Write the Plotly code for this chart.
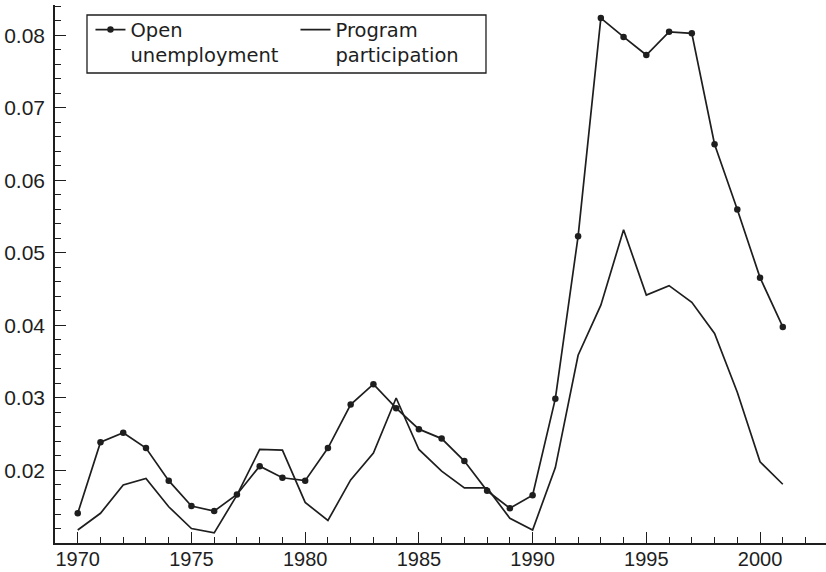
import plotly.graph_objects as go

# Annual series, 1970-2001
years = list(range(1970, 2002))

open_unemployment = [
    0.0141, 0.0239, 0.0252, 0.0231, 0.0186, 0.0151, 0.0144, 0.0167,
    0.0206, 0.0190, 0.0186, 0.0231, 0.0291, 0.0319, 0.0286, 0.0257,
    0.0244, 0.0213, 0.0172, 0.0148, 0.0166, 0.0299, 0.0523, 0.0824,
    0.0798, 0.0773, 0.0805, 0.0803, 0.0650, 0.0560, 0.0466, 0.0398,
]

program_participation = [
    0.0118, 0.0141, 0.0180, 0.0189, 0.0150, 0.0120, 0.0114, 0.0166,
    0.0229, 0.0228, 0.0156, 0.0131, 0.0187, 0.0224, 0.0300, 0.0229,
    0.0199, 0.0176, 0.0176, 0.0134, 0.0118, 0.0204, 0.0359, 0.0428,
    0.0532, 0.0442, 0.0455, 0.0432, 0.0389, 0.0308, 0.0212, 0.0181,
]

x_tickvals = [1970, 1975, 1980, 1985, 1990, 1995, 2000]
y_tickvals = [0.02, 0.03, 0.04, 0.05, 0.06, 0.07, 0.08]

INK = "#1e1e1e"
TICK_FONT = dict(family="Liberation Sans, Arial, sans-serif", size=21, color=INK)

fig = go.Figure()
fig.add_trace(go.Scatter(
    x=years, y=open_unemployment, name="Open<br>unemployment",
    mode="lines+markers",
    line=dict(color=INK, width=1.7),
    marker=dict(color=INK, size=6.5),
))
fig.add_trace(go.Scatter(
    x=years, y=program_participation, name="Program<br>participation",
    mode="lines",
    line=dict(color=INK, width=1.7),
))

fig.update_layout(
    width=826, height=572,
    margin=dict(l=55, r=0, t=5, b=29),
    paper_bgcolor="white", plot_bgcolor="white",
    font=TICK_FONT,
    showlegend=True,
    legend=dict(
        orientation="h",
        x=0.046, y=0.99, xanchor="left", yanchor="top",
        borderwidth=0, bgcolor="rgba(0,0,0,0)",
        font=dict(family="DejaVu Sans, sans-serif", size=19.5, color=INK),
        valign="top",
        entrywidth=160,
        traceorder="normal",
    ),
    # frame drawn around the legend entries
    shapes=[dict(
        type="rect", xref="paper", yref="paper",
        x0=0.0415, x1=0.559, y0=0.8736, y1=0.9814,
        line=dict(color=INK, width=1.3), fillcolor="rgba(0,0,0,0)",
        layer="above",
    )],
)

fig.update_xaxes(
    range=[1969, 2002.9], automargin=False,
    showgrid=False, zeroline=False,
    showline=True, linecolor=INK, linewidth=1.5,
    tickvals=x_tickvals, ticks="inside", ticklen=11, tickwidth=1.3, tickcolor=INK,
    minor=dict(dtick=1, tick0=1970, ticks="inside", ticklen=6, tickwidth=1.2, tickcolor=INK),
    tickfont=dict(family="Liberation Sans, Arial, sans-serif", size=20, color=INK),
    ticklabelstandoff=-3,
)
fig.update_yaxes(
    range=[0.01, 0.0842], automargin=False,
    showgrid=False, zeroline=False,
    showline=True, linecolor=INK, linewidth=1.5,
    tickvals=y_tickvals, tickformat=".2f",
    ticks="inside", ticklen=11, tickwidth=1.3, tickcolor=INK,
    minor=dict(dtick=0.002, tick0=0.01, ticks="inside", ticklen=6, tickwidth=1.2, tickcolor=INK),
    tickfont=TICK_FONT,
    ticklabelstandoff=4,
)

fig.write_html("out.html")
